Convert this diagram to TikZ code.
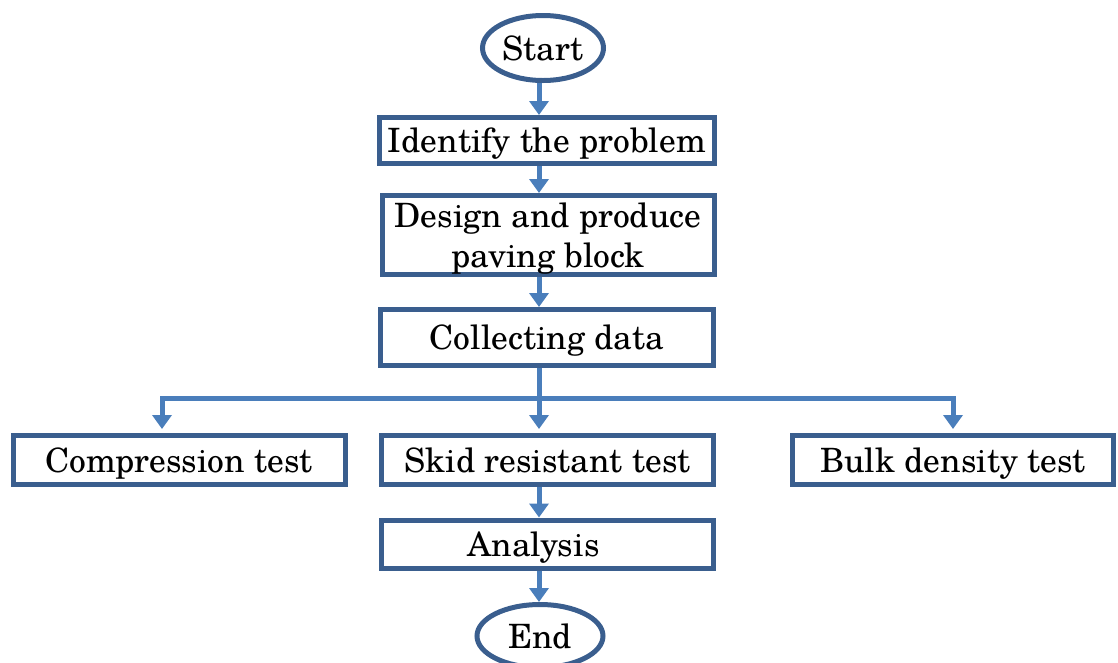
\documentclass[tikz,border=0pt]{standalone}
\usepackage{fontspec}
\setmainfont{TeX Gyre Schola}
\usetikzlibrary{arrows.meta,shapes.geometric}
\definecolor{boxc}{HTML}{3A5E8E}
\definecolor{arrc}{HTML}{4A7EBB}
\tikzset{
  stepbox/.style={draw=boxc,line width=5pt,rectangle,inner sep=0pt,text depth=0pt,font=\fontsize{33.5}{40}\selectfont,align=center},
  termbox/.style={draw=boxc,line width=5pt,ellipse,inner sep=0pt,font=\fontsize{33.5}{40}\selectfont},
  flowline/.style={draw=arrc,line width=5pt},
  flowarr/.style={flowline,-{Triangle[width=19pt,length=14pt]}},
}
\begin{document}
\begin{tikzpicture}[x=1pt,y=-1pt]
\useasboundingbox (0,0) rectangle (1118,662);
\node[termbox,minimum width=121pt,minimum height=65pt] (start) at (543,48) {Start};
\node[stepbox,minimum width=335pt,minimum height=46pt] (ident) at (547,140.5) {Identify the problem};
\node[stepbox,minimum width=332pt,minimum height=79pt] (design) at (548,235) {Design and produce\\paving block};
\node[stepbox,minimum width=333pt,minimum height=56pt] (collect) at (547,337.5) {Collecting data};
\node[stepbox,minimum width=332pt,minimum height=49pt] (comp) at (179,460) {Compression test};
\node[stepbox,minimum width=332pt,minimum height=49pt] (skid) at (547.5,460) {Skid resistant test};
\node[stepbox,minimum width=321pt,minimum height=49pt] (bulk) at (953,460) {Bulk density test};
\node[stepbox,minimum width=332pt,minimum height=48pt] (anal) at (547.5,544) {Analysis\hspace{28pt}};
\node[termbox,minimum width=126pt,minimum height=63pt] (end) at (540,636) {End};
\coordinate (colx) at (539,0);
\coordinate (bus) at (539,398);
\coordinate (busl) at (162,398);
\coordinate (busr) at (953,398);
\draw[flowarr] (start.south -| colx) -- (ident.north -| colx);
\draw[flowarr] (ident.south -| colx) -- (design.north -| colx);
\draw[flowarr] (design.south -| colx) -- (collect.north -| colx);
\draw[flowline] (collect.south -| colx) -- (bus);
\draw[flowarr,shorten >=4pt] (bus) -- (skid.north -| colx);
\draw[flowarr,shorten >=4pt] ([xshift=2.5pt]bus) -- (busl) -- (busl |- comp.north);
\draw[flowarr,shorten >=4pt] ([xshift=-2.5pt]bus) -- (busr) -- (busr |- bulk.north);
\draw[flowarr] (skid.south -| colx) -- (anal.north -| colx);
\draw[flowarr] (anal.south -| colx) -- (end.north -| colx);
\end{tikzpicture}
\end{document}
